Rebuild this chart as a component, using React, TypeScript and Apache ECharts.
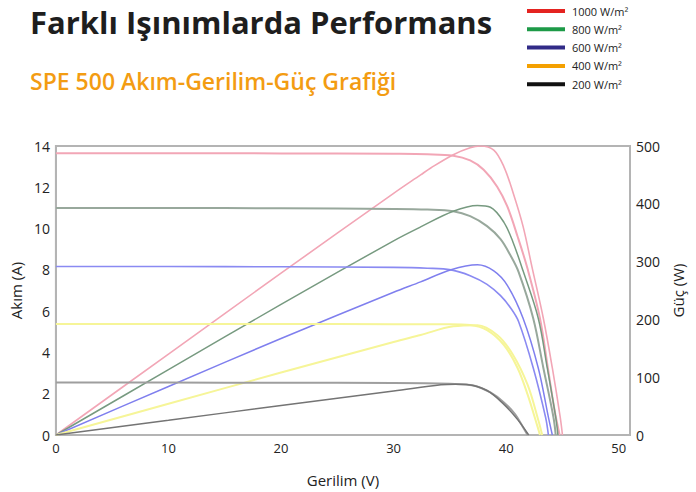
import React, { useEffect, useRef } from "react";
import * as echarts from "echarts";

// Current (A) vs voltage (V)
const iv1000 = [[0, 13.65], [10, 13.65], [20, 13.64], [30, 13.62], [33, 13.6], [35.3, 13.53], [36.8, 13.3], [38, 12.85], [39.2, 12.03], [40.1, 11.07], [41, 9.64], [41.9, 8.05], [43, 5.66], [43.7, 3.26], [44.3, 1.2], [44.75, 0]];
const iv800 = [[0, 11.0], [10, 11.0], [20, 10.98], [30, 10.95], [33, 10.92], [35.3, 10.84], [36.8, 10.6], [38.3, 10.12], [39.5, 9.49], [40.4, 8.68], [41.1, 7.9], [42.4, 5.66], [43.3, 3.26], [44.2, 0.86], [44.4, 0]];
const iv600 = [[0, 8.16], [10, 8.16], [20, 8.15], [30, 8.12], [33, 8.08], [35.1, 8.0], [36.8, 7.72], [38.3, 7.3], [39.5, 6.75], [40.4, 6.15], [41.1, 5.5], [42.4, 3.26], [43.5, 0.86], [43.75, 0]];
const iv400 = [[0, 5.38], [10, 5.38], [20, 5.38], [30, 5.37], [35, 5.37], [36.8, 5.33], [38.3, 5.08], [39.8, 4.36], [41, 3.26], [41.9, 1.97], [42.8, 0.38], [43.0, 0]];
const iv200 = [[0, 2.54], [10, 2.54], [20, 2.53], [30, 2.52], [35, 2.48], [37.1, 2.4], [38.6, 2.06], [39.8, 1.58], [40.8, 1.0], [41.5, 0.38], [41.9, 0]];

// Power (W) vs voltage (V)
const pv1000 = [[0, 0], [10, 140], [20, 280], [30, 418], [32.4, 450], [33.3, 462], [35.3, 485], [36.8, 497], [37.7, 500], [38.9, 493], [39.8, 464], [40.6, 420], [41.5, 361], [42.3, 290], [43.3, 202], [44.1, 116], [44.8, 31], [45.0, 0]];
const pv800 = [[0, 0], [10, 113], [20, 226], [30, 336], [32.4, 360], [35.3, 387], [37.45, 397], [38.6, 394], [39.8, 368], [40.6, 334], [41.5, 284], [42.85, 202], [43.65, 116], [44.4, 31], [44.6, 0]];
const pv600 = [[0, 0], [10, 84], [20, 167], [30, 247], [32.4, 265], [35.1, 286], [37.45, 294.5], [38.9, 284], [40.1, 259], [41.5, 202], [42.85, 116], [43.75, 31], [44.1, 0]];
const pv400 = [[0, 0], [10, 54], [20, 108], [30, 161], [32.4, 173], [35.3, 188], [37.45, 190], [39.2, 173], [40.6, 139], [41.9, 87], [42.85, 26], [43.2, 0]];
const pv200 = [[0, 0], [10, 25.5], [20, 51], [30, 76], [34.2, 87], [35.5, 88], [36.5, 87.5], [38.3, 77], [39.8, 53], [41, 27], [42, 0]];

const legendLabels = ["1000 W/m²", "800 W/m²", "600 W/m²", "400 W/m²", "200 W/m²"];
const legendColors = ["#e42320", "#1d9a47", "#312b87", "#f4a000", "#111111"];

const yLeftTicks = [0, 14, 2];
const yRightTicks = [0, 500, 100];
const xTicks = [0, 51, 10];

export default function App() {
  const ref = useRef<HTMLDivElement>(null);
  useEffect(() => {
    if (!ref.current) return;
    const chart = echarts.init(ref.current, null, { renderer: "svg" });
    const axisFont = "'Open Sans', sans-serif";
    const lineSeries = (name: string, data: number[][], color: string, width: number, yIdx: number) => ({
      name,
      type: "line",
      data,
      yAxisIndex: yIdx,
      smooth: 0.35,
      showSymbol: false,
      symbol: "none",
      lineStyle: { color, width },
      itemStyle: { color },
    });
    const legendGraphics: any[] = [];
    legendLabels.forEach((lab, i) => {
      const cy = 11 + i * 18.3;
      legendGraphics.push({
        type: "rect",
        shape: { x: 527, y: cy - 2, width: 38, height: 4 },
        style: { fill: legendColors[i] },
      });
      legendGraphics.push({
        type: "text",
        style: {
          text: lab,
          x: 572,
          y: cy,
          fill: "#222",
          fontSize: 11,
          fontFamily: axisFont,
          textVerticalAlign: "middle",
        },
      });
    });
    chart.setOption({
      animation: false,
      backgroundColor: "#ffffff",
      grid: {
        left: 54,
        right: 66,
        top: 146,
        bottom: 54,
        show: true,
        borderColor: "#b4b4b4",
        borderWidth: 2,
      },
      xAxis: {
        type: "value",
        min: xTicks[0],
        max: xTicks[1],
        interval: xTicks[2],
        name: "Gerilim (V)",
        nameLocation: "middle",
        nameGap: 37,
        nameTextStyle: { fontSize: 15, color: "#222", fontFamily: axisFont },
        axisLine: { show: true, lineStyle: { color: "#b4b4b4", width: 2 } },
        axisTick: { show: false },
        splitLine: { show: false },
        axisLabel: {
          margin: 6,
          fontSize: 13,
          color: "#222",
          fontFamily: axisFont,
          showMaxLabel: false,
          formatter: (v: number) => (v % 10 === 0 ? String(v) : ""),
        },
      },
      yAxis: [
        {
          type: "value",
          min: yLeftTicks[0],
          max: yLeftTicks[1],
          interval: yLeftTicks[2],
          name: "Akım (A)",
          nameLocation: "middle",
          nameRotate: 90,
          nameGap: 31,
          nameTextStyle: { fontSize: 15, color: "#222", fontFamily: axisFont },
          axisLine: { show: true, lineStyle: { color: "#b4b4b4", width: 2 } },
          axisTick: { show: false },
          splitLine: { show: false },
          axisLabel: { margin: 6, fontSize: 14, color: "#222", fontFamily: axisFont },
        },
        {
          type: "value",
          min: yRightTicks[0],
          max: yRightTicks[1],
          interval: yRightTicks[2],
          name: "Güç (W)",
          nameLocation: "middle",
          nameRotate: 90,
          nameGap: 40,
          nameTextStyle: { fontSize: 15, color: "#222", fontFamily: axisFont },
          axisLine: { show: true, lineStyle: { color: "#b4b4b4", width: 2 } },
          axisTick: { show: false },
          splitLine: { show: false },
          axisLabel: { margin: 6, fontSize: 14, color: "#222", fontFamily: axisFont },
        },
      ],
      graphic: [
        {
          type: "text",
          style: {
            text: "Farklı Işınımlarda Performans",
            x: 30,
            y: 22,
            fill: "#1e1e1e",
            fontSize: 31,
            fontWeight: "bold",
            fontFamily: "'Open Sans', sans-serif",
            textVerticalAlign: "middle",
          },
        },
        {
          type: "text",
          style: {
            text: "SPE 500 Akım-Gerilim-Güç Grafiği",
            x: 30,
            y: 81,
            fill: "#f39c12",
            fontSize: 23,
            fontWeight: 600,
            fontFamily: "'Open Sans', sans-serif",
            textVerticalAlign: "middle",
          },
        },
        ...legendGraphics,
      ],
      series: [
        lineSeries("1000 W/m² I", iv1000, "#f2a6b6", 2, 0),
        lineSeries("1000 W/m² P", pv1000, "#f2a6b6", 1.6, 1),
        lineSeries("800 W/m² I", iv800, "#98a89c", 2, 0),
        lineSeries("800 W/m² P", pv800, "#779a80", 1.5, 1),
        lineSeries("600 W/m² I", iv600, "#8a8af2", 1.6, 0),
        lineSeries("600 W/m² P", pv600, "#7f7fee", 1.5, 1),
        lineSeries("400 W/m² I", iv400, "#f6f598", 2, 0),
        lineSeries("400 W/m² P", pv400, "#f6f598", 2, 1),
        lineSeries("200 W/m² I", iv200, "#9e9e9e", 2, 0),
        lineSeries("200 W/m² P", pv200, "#747474", 1.5, 1),
      ],
    });
    return () => chart.dispose();
  }, []);
  return <div ref={ref} style={{ position: "fixed", left: 0, top: 0, width: 696, height: 492 }} />;
}
